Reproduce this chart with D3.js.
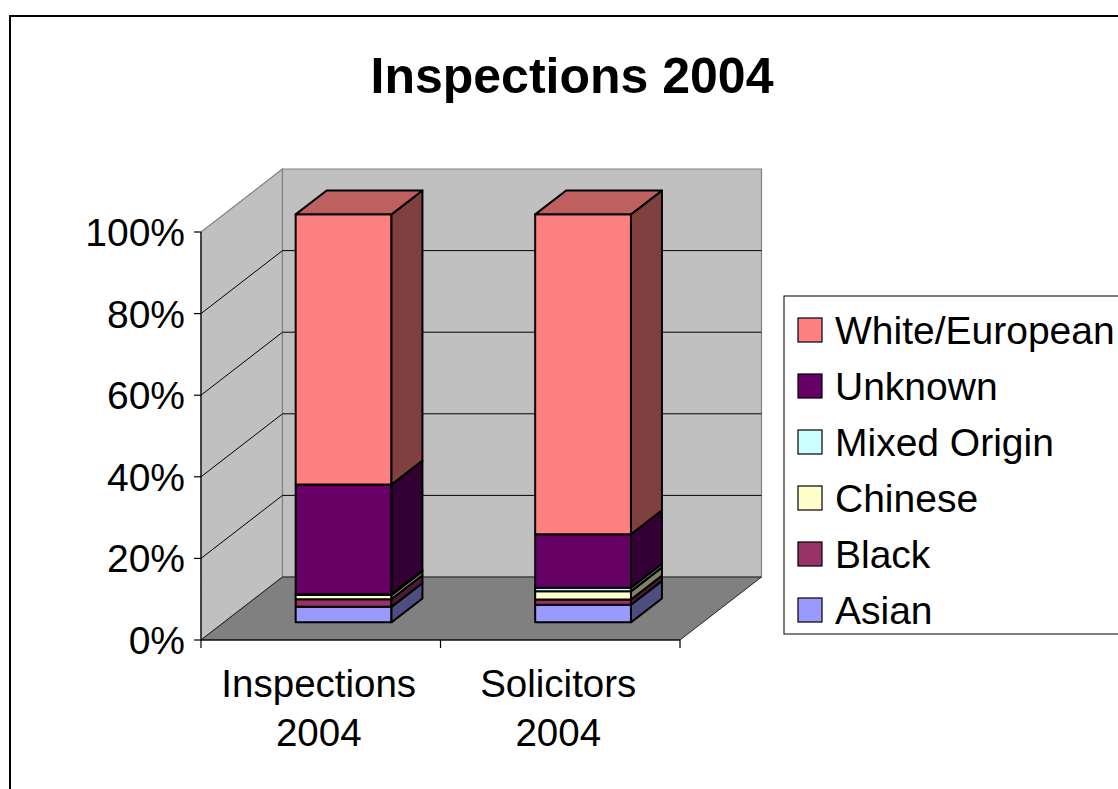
<!DOCTYPE html>
<html>
<head>
<meta charset="utf-8">
<script src="https://cdn.jsdelivr.net/npm/d3@7"></script>
<style>
  html, body { margin: 0; padding: 0; background: #fff; }
  svg { display: block; }
  text { font-family: Arial, "Liberation Sans", sans-serif; fill: #000; }
</style>
</head>
<body>
<script>
// ---- data ----
const categories = ["Inspections 2004", "Solicitors 2004"];
const categoryLines = [["Inspections", "2004"], ["Solicitors", "2004"]];
const seriesNames = ["Asian", "Black", "Chinese", "Mixed Origin", "Unknown", "White/European"];
const asian   = [3.8, 4.3];
const black   = [1.9, 1.3];
const chinese = [1.0, 2.0];
const mixed   = [0.2, 0.9];
const unknown = [26.9, 13.1];
const white   = [66.3, 78.4];
const seriesColors = ["#9999FF", "#993366", "#FFFFCC", "#CCFFFF", "#660066", "#FF8080"];
const yTicks = [0, 0.2, 0.4, 0.6, 0.8, 1.0];
const title = "Inspections 2004";

// ---- layout ----
const W = 1118, H = 789;
const svg = d3.select("body").append("svg").attr("width", W).attr("height", H);

svg.append("rect").attr("x", 0).attr("y", 0).attr("width", W).attr("height", H).attr("fill", "#fff");
svg.append("rect").attr("x", 10).attr("y", 16).attr("width", 1130).attr("height", 800)
  .attr("fill", "none").attr("stroke", "#000").attr("stroke-width", 2);

const table = categories.map((c, i) => ({
  cat: c,
  "Asian": asian[i], "Black": black[i], "Chinese": chinese[i],
  "Mixed Origin": mixed[i], "Unknown": unknown[i], "White/European": white[i]
}));
const stack = d3.stack().keys(seriesNames).offset(d3.stackOffsetExpand)(table);

const x = d3.scaleBand().domain(categories).range([201, 680]).paddingInner(0).paddingOuter(0);
const y = d3.scaleLinear().domain([0, 1]).range([640, 232]);
const DX = 81.5, DY = 63;           // full depth offset
const d0 = 0.28, d1 = 0.66;          // bar depth span
const P = (xf, v, d) => [xf + d * DX, y(v) - d * DY];
const color = d3.scaleOrdinal().domain(seriesNames).range(seriesColors);
const shade = (c, k) => { const r = d3.rgb(c); return d3.rgb(r.r * k, r.g * k, r.b * k).formatHex(); };
const poly = pts => "M" + pts.map(p => p.join(",")).join("L") + "Z";

const x0 = x.range()[0], x1 = x.range()[1];

// side (left) wall
svg.append("path").attr("d", poly([P(x0, 0, 0), P(x0, 1, 0), P(x0, 1, 1), P(x0, 0, 1)]))
  .attr("fill", "#C0C0C0").attr("stroke", "#808080").attr("stroke-width", 1.2);
// back wall
svg.append("path").attr("d", poly([P(x0, 0, 1), P(x0, 1, 1), P(x1, 1, 1), P(x1, 0, 1)]))
  .attr("fill", "#C0C0C0").attr("stroke", "#808080").attr("stroke-width", 1.2);
// floor
svg.append("path").attr("d", poly([P(x0, 0, 0), P(x1, 0, 0), P(x1, 0, 1), P(x0, 0, 1)]))
  .attr("fill", "#808080").attr("stroke", "#000").attr("stroke-width", 0.8);

// gridlines
yTicks.filter(t => t > 0 && t < 1).forEach(t => {
  svg.append("path").attr("d", "M" + [P(x0, t, 0), P(x0, t, 1), P(x1, t, 1)].map(p => p.join(",")).join("L"))
    .attr("fill", "none").attr("stroke", "#000").attr("stroke-width", 1);
});

// y axis
svg.append("line").attr("x1", x0).attr("x2", x0).attr("y1", y(0)).attr("y2", y(1))
  .attr("stroke", "#000").attr("stroke-width", 1.2);
yTicks.forEach(t => {
  svg.append("line").attr("x1", x0 - 7).attr("x2", x0).attr("y1", y(t)).attr("y2", y(t))
    .attr("stroke", "#000").attr("stroke-width", 1.2);
  svg.append("text").attr("x", 185).attr("y", y(t) + 14).attr("text-anchor", "end")
    .attr("font-size", 39).text(d3.format(".0%")(t));
});

// x axis
svg.append("line").attr("x1", x0).attr("x2", x1).attr("y1", y(0)).attr("y2", y(0))
  .attr("stroke", "#000").attr("stroke-width", 1.2);
[x0, x0 + x.bandwidth(), x1].forEach(tx => {
  svg.append("line").attr("x1", tx).attr("x2", tx).attr("y1", y(0)).attr("y2", y(0) + 8)
    .attr("stroke", "#000").attr("stroke-width", 1.2);
});
categories.forEach((c, i) => {
  const cx = x(c) + x.bandwidth() / 2;
  const t = svg.append("text").attr("text-anchor", "middle").attr("font-size", 38.5);
  categoryLines[i].forEach((ln, j) => {
    t.append("tspan").attr("x", cx - 2).attr("y", 697 + j * 49).text(ln);
  });
});

// bars
categories.forEach((c, i) => {
  const bw = x.bandwidth() * 0.4;
  const bx0 = x(c) + (x.bandwidth() - bw) / 2, bx1 = bx0 + bw;
  const g = svg.append("g");
  stack.forEach((s, si) => {
    const lo = s[i][0], hi = s[i][1];
    const col = color(s.key);
    g.append("path").attr("d", poly([P(bx0, lo, d0), P(bx1, lo, d0), P(bx1, hi, d0), P(bx0, hi, d0)]))
      .attr("fill", col).attr("stroke", "#000").attr("stroke-width", 2).attr("stroke-linejoin", "round");
    g.append("path").attr("d", poly([P(bx1, lo, d0), P(bx1, lo, d1), P(bx1, hi, d1), P(bx1, hi, d0)]))
      .attr("fill", shade(col, 0.5)).attr("stroke", "#000").attr("stroke-width", 2).attr("stroke-linejoin", "round");
    if (si === stack.length - 1) {
      g.append("path").attr("d", poly([P(bx0, hi, d0), P(bx1, hi, d0), P(bx1, hi, d1), P(bx0, hi, d1)]))
        .attr("fill", shade(col, 0.75)).attr("stroke", "#000").attr("stroke-width", 2).attr("stroke-linejoin", "round");
    }
  });
});

// title
svg.append("text").attr("x", 572).attr("y", 93).attr("text-anchor", "middle")
  .attr("font-size", 50).attr("font-weight", "bold").text(title);

// legend
const lg = svg.append("g");
lg.append("rect").attr("x", 784).attr("y", 296).attr("width", 360).attr("height", 338)
  .attr("fill", "#fff").attr("stroke", "#000").attr("stroke-width", 1);
const legendOrder = seriesNames.slice().reverse();
legendOrder.forEach((n, i) => {
  const cy = 330 + i * 56;
  lg.append("rect").attr("x", 798).attr("y", cy - 12).attr("width", 24).attr("height", 24)
    .attr("fill", color(n)).attr("stroke", "#000").attr("stroke-width", 1.2);
  lg.append("text").attr("x", 835).attr("y", cy + 14).attr("font-size", 39).text(n);
});
</script>
</body>
</html>
